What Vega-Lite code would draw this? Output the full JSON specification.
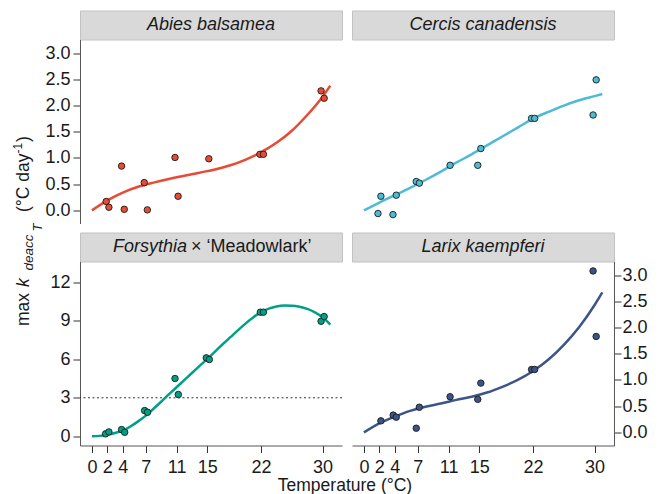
{
  "$schema": "https://vega.github.io/schema/vega-lite/v6.json",
  "background": "white",
  "padding": {"left": 10.5, "top": 9.5, "right": 5, "bottom": 5},
  "config": {
    "font": "Liberation Sans",
    "view": {"stroke": null},
    "text": {"font": "Liberation Sans", "color": "#1a1a1a"},
    "axis": {
      "labelFont": "Liberation Sans",
      "labelFontSize": 18,
      "labelColor": "#1a1a1a",
      "domainColor": "#555555",
      "tickColor": "#333333",
      "tickSize": 7,
      "labelPadding": 3,
      "grid": false,
      "labelOverlap": false,
      "labelFlush": false
    },
    "axisX": {"labelPadding": 6}
  },
  "datasets": {
    "abies_obs": [
      {"temp": 1.85, "k": 0.17}, {"temp": 2.2, "k": 0.06}, {"temp": 3.85, "k": 0.845}, {"temp": 4.2, "k": 0.02},
      {"temp": 6.8, "k": 0.53}, {"temp": 7.2, "k": 0.01}, {"temp": 10.8, "k": 1.01}, {"temp": 11.2, "k": 0.27},
      {"temp": 15.2, "k": 0.985}, {"temp": 21.85, "k": 1.07}, {"temp": 22.3, "k": 1.07}, {"temp": 29.8, "k": 2.28},
      {"temp": 30.2, "k": 2.14}
    ],
    "abies_fit": [
      {"temp": 0, "k": 0.0}, {"temp": 2, "k": 0.19}, {"temp": 4, "k": 0.34}, {"temp": 6, "k": 0.45},
      {"temp": 8, "k": 0.53}, {"temp": 10, "k": 0.6}, {"temp": 12, "k": 0.66}, {"temp": 14, "k": 0.72},
      {"temp": 16, "k": 0.78}, {"temp": 18, "k": 0.86}, {"temp": 20, "k": 0.97}, {"temp": 22, "k": 1.11},
      {"temp": 24, "k": 1.29}, {"temp": 26, "k": 1.52}, {"temp": 28, "k": 1.82}, {"temp": 30, "k": 2.17},
      {"temp": 31, "k": 2.38}
    ],
    "cercis_obs": [
      {"temp": 1.82, "k": -0.06}, {"temp": 2.2, "k": 0.27}, {"temp": 3.77, "k": -0.08}, {"temp": 4.2, "k": 0.29},
      {"temp": 6.8, "k": 0.55}, {"temp": 7.2, "k": 0.52}, {"temp": 11.2, "k": 0.86}, {"temp": 14.8, "k": 0.86},
      {"temp": 15.2, "k": 1.18}, {"temp": 21.8, "k": 1.755}, {"temp": 22.2, "k": 1.755}, {"temp": 29.8, "k": 1.82},
      {"temp": 30.2, "k": 2.49}
    ],
    "cercis_fit": [
      {"temp": 0, "k": 0.0}, {"temp": 2, "k": 0.15}, {"temp": 4, "k": 0.29}, {"temp": 6, "k": 0.43},
      {"temp": 8, "k": 0.58}, {"temp": 10, "k": 0.74}, {"temp": 12, "k": 0.91}, {"temp": 14, "k": 1.07},
      {"temp": 16, "k": 1.24}, {"temp": 18, "k": 1.41}, {"temp": 20, "k": 1.58}, {"temp": 22, "k": 1.75},
      {"temp": 24, "k": 1.88}, {"temp": 26, "k": 2.0}, {"temp": 28, "k": 2.1}, {"temp": 30, "k": 2.18},
      {"temp": 31, "k": 2.22}
    ],
    "forsythia_obs": [
      {"temp": 1.77, "k": 0.19}, {"temp": 2.2, "k": 0.34}, {"temp": 3.85, "k": 0.52}, {"temp": 4.25, "k": 0.31},
      {"temp": 6.85, "k": 2.0}, {"temp": 7.23, "k": 1.87}, {"temp": 10.8, "k": 4.5}, {"temp": 11.23, "k": 3.25},
      {"temp": 14.87, "k": 6.11}, {"temp": 15.26, "k": 5.98}, {"temp": 21.9, "k": 9.67}, {"temp": 22.3, "k": 9.67},
      {"temp": 29.8, "k": 8.96}, {"temp": 30.2, "k": 9.33}
    ],
    "forsythia_fit": [
      {"temp": 0, "k": 0.0}, {"temp": 1, "k": 0.03}, {"temp": 2, "k": 0.12}, {"temp": 3, "k": 0.26},
      {"temp": 4, "k": 0.44}, {"temp": 5, "k": 0.76}, {"temp": 6, "k": 1.16}, {"temp": 7, "k": 1.61},
      {"temp": 8, "k": 2.14}, {"temp": 9, "k": 2.69}, {"temp": 10, "k": 3.26}, {"temp": 11, "k": 3.82},
      {"temp": 12, "k": 4.37}, {"temp": 13, "k": 4.93}, {"temp": 14, "k": 5.48}, {"temp": 15, "k": 6.03},
      {"temp": 16, "k": 6.6}, {"temp": 17, "k": 7.17}, {"temp": 18, "k": 7.72}, {"temp": 19, "k": 8.27},
      {"temp": 20, "k": 8.8}, {"temp": 21, "k": 9.28}, {"temp": 22, "k": 9.67}, {"temp": 23, "k": 9.95},
      {"temp": 24, "k": 10.12}, {"temp": 25, "k": 10.19}, {"temp": 26, "k": 10.18}, {"temp": 27, "k": 10.1},
      {"temp": 28, "k": 9.93}, {"temp": 29, "k": 9.66}, {"temp": 30, "k": 9.27}, {"temp": 31, "k": 8.7}
    ],
    "larix_obs": [
      {"temp": 2.2, "k": 0.22}, {"temp": 3.8, "k": 0.33}, {"temp": 4.2, "k": 0.29}, {"temp": 6.8, "k": 0.08},
      {"temp": 7.2, "k": 0.48}, {"temp": 11.2, "k": 0.68}, {"temp": 14.8, "k": 0.63}, {"temp": 15.2, "k": 0.94},
      {"temp": 21.8, "k": 1.2}, {"temp": 22.2, "k": 1.2}, {"temp": 29.8, "k": 3.08}, {"temp": 30.2, "k": 1.83}
    ],
    "larix_fit": [
      {"temp": 0, "k": 0.0}, {"temp": 2, "k": 0.17}, {"temp": 4, "k": 0.3}, {"temp": 6, "k": 0.41},
      {"temp": 8, "k": 0.49}, {"temp": 10, "k": 0.55}, {"temp": 12, "k": 0.62}, {"temp": 14, "k": 0.68},
      {"temp": 16, "k": 0.76}, {"temp": 18, "k": 0.87}, {"temp": 20, "k": 1.0}, {"temp": 22, "k": 1.17},
      {"temp": 24, "k": 1.39}, {"temp": 26, "k": 1.67}, {"temp": 28, "k": 2.01}, {"temp": 30, "k": 2.43},
      {"temp": 31, "k": 2.67}
    ]
  },
  "spacing": 0,
  "hconcat": [
    {
      "width": 32,
      "height": 436,
      "layer": [
        {
          "data": {"values": [{"t": "max"}]},
          "mark": {"type": "text", "angle": 270, "align": "left", "baseline": "alphabetic", "fontSize": 17.5, "dx": -97.5, "dy": 0},
          "encoding": {"text": {"field": "t"}}
        },
        {
          "data": {"values": [{"t": "k"}]},
          "mark": {"type": "text", "angle": 270, "align": "left", "baseline": "alphabetic", "fontSize": 17.5, "fontStyle": "italic", "dx": -58.5, "dy": 0},
          "encoding": {"text": {"field": "t"}}
        },
        {
          "data": {"values": [{"t": "deacc"}]},
          "mark": {"type": "text", "angle": 270, "align": "left", "baseline": "alphabetic", "fontSize": 13.5, "fontStyle": "italic", "dx": -42, "dy": 4},
          "encoding": {"text": {"field": "t"}}
        },
        {
          "data": {"values": [{"t": "T"}]},
          "mark": {"type": "text", "angle": 270, "align": "left", "baseline": "alphabetic", "fontSize": 13, "fontStyle": "italic", "dx": -3, "dy": 13},
          "encoding": {"text": {"field": "t"}}
        },
        {
          "data": {"values": [{"t": "(°C day"}]},
          "mark": {"type": "text", "angle": 270, "align": "left", "baseline": "alphabetic", "fontSize": 17.5, "dx": 16.5, "dy": 0},
          "encoding": {"text": {"field": "t"}}
        },
        {
          "data": {"values": [{"t": "-1"}]},
          "mark": {"type": "text", "angle": 270, "align": "left", "baseline": "alphabetic", "fontSize": 12, "dx": 75, "dy": -7},
          "encoding": {"text": {"field": "t"}}
        },
        {
          "data": {"values": [{"t": ")"}]},
          "mark": {"type": "text", "angle": 270, "align": "left", "baseline": "alphabetic", "fontSize": 17.5, "dx": 86.5, "dy": 0},
          "encoding": {"text": {"field": "t"}}
        }
      ]
    },
    {
      "spacing": -6,
      "center": true,
      "vconcat": [
        {
          "columns": 2,
          "bounds": "flush",
          "align": "each",
          "spacing": {"row": 0, "column": 10},
          "concat": [
            {
              "width": 262, "height": 29,
              "view": {"fill": "#d9d9d9", "stroke": "#c2c2c2"},
              "data": {"values": [{"name": "Abies balsamea"}]},
              "mark": {"type": "text", "fontSize": 18, "fontStyle": "italic"},
              "encoding": {"text": {"field": "name"}}
            },
            {
              "width": 262, "height": 29,
              "view": {"fill": "#d9d9d9", "stroke": "#c2c2c2"},
              "data": {"values": [{"name": "Cercis canadensis"}]},
              "mark": {"type": "text", "fontSize": 18, "fontStyle": "italic"},
              "encoding": {"text": {"field": "name"}}
            },
            {
              "width": 262, "height": 184,
              "layer": [
                {
                  "data": {"name": "abies_fit"},
                  "mark": {"type": "line", "color": "#E64B35", "strokeWidth": 2.5, "interpolate": "monotone"},
                  "encoding": {
                    "x": {"field": "temp", "type": "quantitative", "scale": {"domain": [-1.56, 32.52], "nice": false, "zero": false}, "axis": null},
                    "y": {"field": "k", "type": "quantitative", "scale": {"domain": [-0.25, 3.26], "nice": false, "zero": false}, "axis": {"values": [0, 0.5, 1, 1.5, 2, 2.5, 3], "format": ".1f", "title": null}}
                  }
                },
                {
                  "data": {"name": "abies_obs"},
                  "mark": {"type": "point", "shape": "circle", "filled": true, "fill": "#E64B35", "stroke": "#1a1a1a", "strokeWidth": 0.9, "size": 42, "opacity": 1},
                  "encoding": {
                    "x": {"field": "temp", "type": "quantitative", "scale": {"domain": [-1.56, 32.52], "nice": false, "zero": false}, "axis": null},
                    "y": {"field": "k", "type": "quantitative", "scale": {"domain": [-0.25, 3.26], "nice": false, "zero": false}, "axis": {"values": [0, 0.5, 1, 1.5, 2, 2.5, 3], "format": ".1f", "title": null}}
                  }
                }
              ]
            },
            {
              "width": 262, "height": 184,
              "layer": [
                {
                  "data": {"name": "cercis_fit"},
                  "mark": {"type": "line", "color": "#4DBBD5", "strokeWidth": 2.5, "interpolate": "monotone"},
                  "encoding": {
                    "x": {"field": "temp", "type": "quantitative", "scale": {"domain": [-1.56, 32.52], "nice": false, "zero": false}, "axis": null},
                    "y": {"field": "k", "type": "quantitative", "scale": {"domain": [-0.25, 3.26], "nice": false, "zero": false}, "axis": null}
                  }
                },
                {
                  "data": {"name": "cercis_obs"},
                  "mark": {"type": "point", "shape": "circle", "filled": true, "fill": "#4DBBD5", "stroke": "#1a1a1a", "strokeWidth": 0.9, "size": 42, "opacity": 1},
                  "encoding": {
                    "x": {"field": "temp", "type": "quantitative", "scale": {"domain": [-1.56, 32.52], "nice": false, "zero": false}, "axis": null},
                    "y": {"field": "k", "type": "quantitative", "scale": {"domain": [-0.25, 3.26], "nice": false, "zero": false}, "axis": null}
                  }
                }
              ]
            },
            {
              "width": 262, "height": 9,
              "data": {"values": []},
              "mark": {"type": "point"}
            },
            {
              "width": 262, "height": 9,
              "data": {"values": []},
              "mark": {"type": "point"}
            },
            {
              "width": 262, "height": 29,
              "view": {"fill": "#d9d9d9", "stroke": "#c2c2c2"},
              "layer": [
                {
                  "data": {"values": [{"name": "Forsythia"}]},
                  "mark": {"type": "text", "fontSize": 18, "fontStyle": "italic", "align": "right", "dx": -24},
                  "encoding": {"text": {"field": "name"}}
                },
                {
                  "data": {"values": [{"name": "× ‘Meadowlark’"}]},
                  "mark": {"type": "text", "fontSize": 18, "align": "left", "dx": -20},
                  "encoding": {"text": {"field": "name"}}
                }
              ]
            },
            {
              "width": 262, "height": 29,
              "view": {"fill": "#d9d9d9", "stroke": "#c2c2c2"},
              "data": {"values": [{"name": "Larix kaempferi"}]},
              "mark": {"type": "text", "fontSize": 18, "fontStyle": "italic"},
              "encoding": {"text": {"field": "name"}}
            },
            {
              "width": 262, "height": 184,
              "layer": [
                {
                  "data": {"values": [{"k": 3}]},
                  "mark": {"type": "rule", "color": "#333333", "strokeWidth": 1, "strokeDash": [2, 2.5]},
                  "encoding": {
                    "y": {"field": "k", "type": "quantitative", "scale": {"domain": [-0.72, 13.62], "nice": false, "zero": false}, "axis": {"values": [0, 3, 6, 9, 12], "format": "d", "title": null}}
                  }
                },
                {
                  "data": {"name": "forsythia_fit"},
                  "mark": {"type": "line", "color": "#00A087", "strokeWidth": 2.5, "interpolate": "monotone"},
                  "encoding": {
                    "x": {"field": "temp", "type": "quantitative", "scale": {"domain": [-1.56, 32.52], "nice": false, "zero": false}, "axis": {"values": [0, 2, 4, 7, 11, 15, 22, 30], "title": null}},
                    "y": {"field": "k", "type": "quantitative", "scale": {"domain": [-0.72, 13.62], "nice": false, "zero": false}, "axis": {"values": [0, 3, 6, 9, 12], "format": "d", "title": null}}
                  }
                },
                {
                  "data": {"name": "forsythia_obs"},
                  "mark": {"type": "point", "shape": "circle", "filled": true, "fill": "#00A087", "stroke": "#1a1a1a", "strokeWidth": 0.9, "size": 42, "opacity": 1},
                  "encoding": {
                    "x": {"field": "temp", "type": "quantitative", "scale": {"domain": [-1.56, 32.52], "nice": false, "zero": false}, "axis": {"values": [0, 2, 4, 7, 11, 15, 22, 30], "title": null}},
                    "y": {"field": "k", "type": "quantitative", "scale": {"domain": [-0.72, 13.62], "nice": false, "zero": false}, "axis": {"values": [0, 3, 6, 9, 12], "format": "d", "title": null}}
                  }
                }
              ]
            },
            {
              "width": 262, "height": 184,
              "layer": [
                {
                  "data": {"name": "larix_fit"},
                  "mark": {"type": "line", "color": "#3C5488", "strokeWidth": 2.5, "interpolate": "monotone"},
                  "encoding": {
                    "x": {"field": "temp", "type": "quantitative", "scale": {"domain": [-1.56, 32.52], "nice": false, "zero": false}, "axis": {"values": [0, 2, 4, 7, 11, 15, 22, 30], "title": null}},
                    "y": {"field": "k", "type": "quantitative", "scale": {"domain": [-0.25, 3.26], "nice": false, "zero": false}, "axis": {"orient": "right", "values": [0, 0.5, 1, 1.5, 2, 2.5, 3], "format": ".1f", "title": null, "labelPadding": 1}}
                  }
                },
                {
                  "data": {"name": "larix_obs"},
                  "mark": {"type": "point", "shape": "circle", "filled": true, "fill": "#3C5488", "stroke": "#1a1a1a", "strokeWidth": 0.9, "size": 42, "opacity": 1},
                  "encoding": {
                    "x": {"field": "temp", "type": "quantitative", "scale": {"domain": [-1.56, 32.52], "nice": false, "zero": false}, "axis": {"values": [0, 2, 4, 7, 11, 15, 22, 30], "title": null}},
                    "y": {"field": "k", "type": "quantitative", "scale": {"domain": [-0.25, 3.26], "nice": false, "zero": false}, "axis": {"orient": "right", "values": [0, 0.5, 1, 1.5, 2, 2.5, 3], "format": ".1f", "title": null, "labelPadding": 1}}
                  }
                }
              ]
            }
          ]
        },
        {
          "width": 534,
          "height": 18,
          "data": {"values": [{"label": "Temperature (°C)"}]},
          "mark": {"type": "text", "fontSize": 17.5, "dx": -18.5},
          "encoding": {"text": {"field": "label"}}
        }
      ]
    }
  ]
}
